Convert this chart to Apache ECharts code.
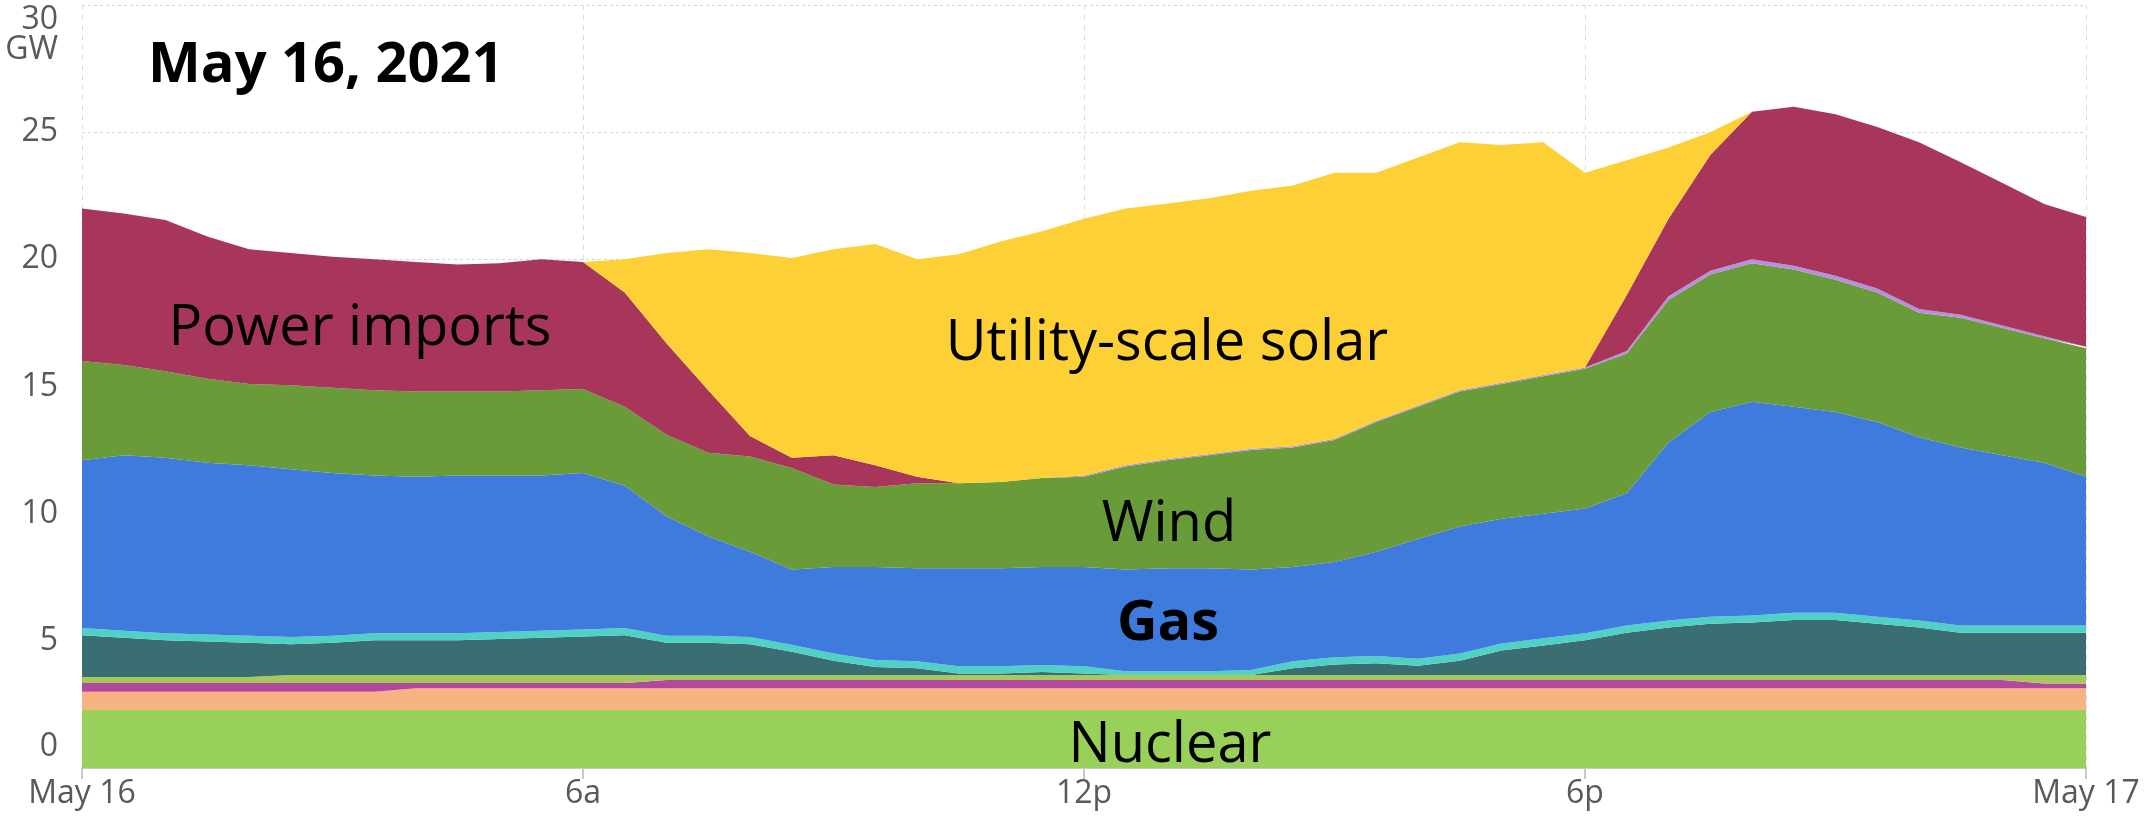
<!DOCTYPE html>
<html><head><meta charset="utf-8">
<script src="https://cdn.jsdelivr.net/npm/echarts@6/dist/echarts.min.js"></script>
<style>html,body{margin:0;padding:0;background:#fff}#c{width:2148px;height:822px}</style>
</head><body><div id="c"></div>
<script>
// half-hour time stamps, 00:00 May 16 -> 00:00 May 17
const times = [];
for (let i = 0; i <= 48; i++) { const m = i * 30; times.push(String(Math.floor(m / 60)).padStart(2, '0') + ':' + String(m % 60).padStart(2, '0')); }
const xTickIndex = [0, 12, 24, 36, 48];
const xTickLabels = ['May 16', '6a', '12p', '6p', 'May 17'];
const yTicks = [0, 5, 10, 15, 20, 25, 30];

// GW, one value per half hour (49 points)
const nuclear = [2.28,2.28,2.28,2.28,2.28,2.28,2.28,2.28,2.28,2.28,2.28,2.28,2.28,2.28,2.28,2.28,2.28,2.28,2.28,2.28,2.28,2.28,2.28,2.28,2.28,2.28,2.28,2.28,2.28,2.28,2.28,2.28,2.28,2.28,2.28,2.28,2.28,2.28,2.28,2.28,2.28,2.28,2.28,2.28,2.28,2.28,2.28,2.28,2.28];
const peach = [0.72,0.72,0.72,0.72,0.72,0.72,0.72,0.72,0.86,0.86,0.86,0.86,0.86,0.86,0.86,0.86,0.86,0.86,0.86,0.86,0.86,0.86,0.86,0.86,0.86,0.86,0.86,0.86,0.86,0.86,0.86,0.86,0.86,0.86,0.86,0.86,0.86,0.86,0.86,0.86,0.86,0.86,0.86,0.86,0.86,0.86,0.86,0.86,0.86];
const magenta = [0.34,0.34,0.34,0.34,0.34,0.34,0.34,0.34,0.2,0.2,0.2,0.2,0.2,0.2,0.32,0.32,0.32,0.32,0.32,0.32,0.32,0.32,0.32,0.32,0.32,0.32,0.32,0.32,0.32,0.32,0.32,0.32,0.32,0.32,0.32,0.32,0.32,0.32,0.32,0.32,0.32,0.32,0.32,0.32,0.32,0.32,0.32,0.18,0.18];
const lightGreen = [0.24,0.24,0.24,0.24,0.24,0.32,0.32,0.32,0.32,0.32,0.32,0.32,0.32,0.32,0.2,0.2,0.2,0.2,0.2,0.2,0.2,0.2,0.2,0.2,0.2,0.2,0.2,0.2,0.2,0.2,0.2,0.2,0.2,0.2,0.2,0.2,0.2,0.2,0.2,0.2,0.2,0.2,0.2,0.2,0.2,0.2,0.2,0.34,0.34];
const teal = [1.64,1.54,1.44,1.39,1.34,1.21,1.26,1.36,1.36,1.36,1.41,1.46,1.51,1.56,1.26,1.26,1.21,0.91,0.56,0.31,0.26,0.06,0.06,0.11,0.06,0,0,0,0,0.26,0.41,0.46,0.36,0.56,0.96,1.16,1.36,1.66,1.86,2.01,2.06,2.16,2.16,2.01,1.86,1.66,1.66,1.66,1.66];
const cyan = [0.28,0.28,0.28,0.28,0.28,0.28,0.28,0.28,0.28,0.28,0.28,0.28,0.28,0.28,0.28,0.28,0.28,0.28,0.28,0.28,0.28,0.28,0.28,0.28,0.28,0.14,0.14,0.14,0.19,0.28,0.28,0.28,0.28,0.28,0.28,0.28,0.28,0.28,0.28,0.28,0.28,0.28,0.28,0.28,0.28,0.28,0.28,0.28,0.28];
const gas = [6.6,6.9,6.9,6.75,6.7,6.6,6.4,6.2,6.15,6.2,6.15,6.1,6.15,5.6,4.7,3.9,3.35,2.95,3.4,3.65,3.65,3.85,3.85,3.85,3.9,4.0,4.05,4.05,3.95,3.7,3.75,4.1,4.7,5.0,4.9,4.9,4.9,5.2,7.0,8.05,8.4,8.1,7.9,7.65,7.2,7.0,6.7,6.4,5.85];
const wind = [3.9,3.55,3.4,3.3,3.2,3.3,3.35,3.35,3.35,3.3,3.3,3.35,3.3,3.1,3.2,3.3,3.75,4.0,3.25,3.15,3.35,3.35,3.4,3.5,3.55,4.05,4.25,4.45,4.7,4.7,4.8,5.1,5.2,5.3,5.3,5.4,5.5,5.5,5.6,5.4,5.45,5.4,5.2,5.1,4.9,5.1,5.0,4.9,5.05];
const lavender = [0,0,0,0,0,0,0,0,0,0,0,0,0,0,0,0,0,0,0,0,0,0,0,0,0.05,0.05,0.05,0.05,0.05,0.05,0.05,0.05,0.05,0.05,0.05,0.05,0.05,0.1,0.15,0.15,0.15,0.15,0.15,0.15,0.15,0.12,0.1,0.08,0.06];
const imports = [6.0,5.95,5.95,5.6,5.3,5.2,5.15,5.15,5.1,5.0,5.05,5.15,5.0,4.5,3.6,2.45,0.8,0.4,1.15,0.85,0.25,0,0,0,0,0,0,0,0,0,0,0,0,0,0,0,0,2.2,3.05,4.55,5.8,6.25,6.35,6.35,6.55,6.0,5.6,5.2,5.1];
const solar = [0,0,0,0,0,0,0,0,0,0,0,0,0,1.3,3.55,5.55,7.2,7.85,8.1,8.7,8.55,9.0,9.45,9.7,10.1,10.1,10.05,10.05,10.15,10.25,10.45,9.75,9.75,9.75,9.35,9.15,7.65,5.3,2.8,0.9,0,0,0,0,0,0,0,0,0];

const layers = [
  ['Nuclear', nuclear, '#98D05A'],
  ['Layer 2', peach, '#F8B382'],
  ['Layer 3', magenta, '#B3499C'],
  ['Layer 4', lightGreen, '#A5C95C'],
  ['Layer 5', teal, '#3B6E73'],
  ['Layer 6', cyan, '#4FD1C5'],
  ['Gas', gas, '#3F7BDD'],
  ['Wind', wind, '#699B39'],
  ['Other', lavender, '#B58FE0'],
  ['Power imports', imports, '#A8365B'],
  ['Utility-scale solar', solar, '#FDD135']
];

const FONT = '"Open Sans", "Noto Sans", sans-serif';
const GRAY = '#595959';
const isTick = (i) => i % 12 === 0;

const chart = echarts.init(document.getElementById('c'), null, { renderer: 'canvas' });
chart.setOption({
  animation: false,
  backgroundColor: '#ffffff',
  grid: { left: 82, right: 62, top: 5, bottom: 54, containLabel: false },
  xAxis: {
    type: 'category', data: times, boundaryGap: false,
    axisLine: { lineStyle: { color: '#c8c8c8', width: 2 } },
    axisTick: { show: true, interval: (i) => isTick(i), length: 11, lineStyle: { color: '#c8c8c8', width: 2 } },
    axisLabel: {
      interval: (i) => isTick(i), margin: 10, color: GRAY, fontSize: 32, fontFamily: FONT,
      formatter: (v, i) => { const k = xTickIndex.indexOf(i); return k >= 0 ? xTickLabels[k] : ''; }
    },
    splitLine: { show: true, interval: (i) => isTick(i), lineStyle: { color: '#dcdcdc', type: [5, 5], width: 1 } }
  },
  yAxis: {
    type: 'value', min: 0, max: 30, interval: 5,
    axisLine: { show: false }, axisTick: { show: false },
    splitLine: { lineStyle: { color: '#d4d4d4', type: [3, 3], width: 1 } },
    axisLabel: {
      margin: 24, color: GRAY, fontSize: 32, fontFamily: FONT, hideOverlap: false,
      verticalAlignMaxLabel: 'top',
      formatter: (v) => v === yTicks[0] ? '{z|' + v + '}' : (v === yTicks[yTicks.length - 1] ? '{t|' + v + '}\n{t|GW}' : String(v)),
      rich: {
        z: { fontSize: 32, fontFamily: FONT, color: GRAY, padding: [0, 0, 42, 0] },
        t: { fontSize: 32, fontFamily: FONT, color: GRAY, lineHeight: 30 }
      }
    }
  },
  series: layers.map(([name, data, color]) => ({
    name, type: 'line', stack: 'total', data,
    symbol: 'none', showSymbol: false, smooth: false,
    lineStyle: { width: 0 },
    areaStyle: { color, opacity: 1 },
    emphasis: { disabled: true }, silent: true
  })),
  graphic: [
    { type: 'text', z: 100, x: 148, y: 66, style: { text: 'May 16, 2021', font: 'bold 56px ' + FONT, fill: '#000', align: 'left', verticalAlign: 'middle' } },
    { type: 'text', z: 100, x: 360, y: 329, style: { text: 'Power imports', font: '56px ' + FONT, fill: '#000', align: 'center', verticalAlign: 'middle' } },
    { type: 'text', z: 100, x: 1167, y: 344, style: { text: 'Utility-scale solar', font: '56px ' + FONT, fill: '#000', align: 'center', verticalAlign: 'middle' } },
    { type: 'text', z: 100, x: 1169, y: 525, style: { text: 'Wind', font: '56px ' + FONT, fill: '#000', align: 'center', verticalAlign: 'middle' } },
    { type: 'text', z: 100, x: 1168, y: 624, style: { text: 'Gas', font: 'bold 56px ' + FONT, fill: '#000', align: 'center', verticalAlign: 'middle' } },
    { type: 'text', z: 100, x: 1170, y: 746, style: { text: 'Nuclear', font: '56px ' + FONT, fill: '#000', align: 'center', verticalAlign: 'middle' } }
  ]
});
</script></body></html>
